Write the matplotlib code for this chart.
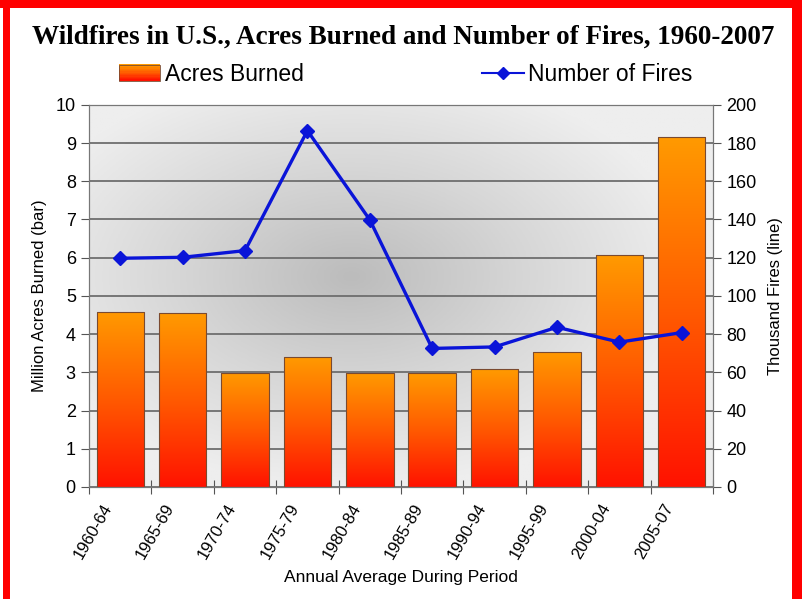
"""Wildfires in U.S.: acres burned (bars) and number of fires (line), 1960-2007."""

import numpy as np
import matplotlib.pyplot as plt
from matplotlib.colors import LinearSegmentedColormap
from matplotlib.legend_handler import HandlerBase
from matplotlib.patches import Rectangle
from matplotlib.lines import Line2D

periods = ["1960-64", "1965-69", "1970-74", "1975-79", "1980-84",
           "1985-89", "1990-94", "1995-99", "2000-04", "2005-07"]
acres_burned = [4.58, 4.55, 2.99, 3.39, 2.97, 2.98, 3.08, 3.54, 6.06, 9.15]
fires_thousands = [119.7, 120.2, 123.7, 186.5, 139.8, 72.5, 73.3, 83.6, 75.8, 80.8]

bar_cmap = LinearSegmentedColormap.from_list("fire", ["#ff1200", "#ff5a00", "#ff9a00"])
bg_cmap = LinearSegmentedColormap.from_list("bg", ["#bcbcbc", "#d6d6d6", "#eeeeee"])

plt.rcParams["font.family"] = ["Liberation Sans", "DejaVu Sans"]


class GradientHandler(HandlerBase):
    """Legend key drawn as stacked strips so it looks like the bar gradient."""

    def create_artists(self, legend, orig_handle, xdescent, ydescent,
                       width, height, fontsize, trans):
        n = 12
        artists = []
        for i in range(n):
            artists.append(Rectangle((-xdescent, -ydescent + height * i / n),
                                     width, height / n + 0.3,
                                     facecolor=bar_cmap(i / (n - 1)),
                                     edgecolor="none", transform=trans))
        artists.append(Rectangle((-xdescent, -ydescent), width, height,
                                 facecolor="none", edgecolor="#7a4a30",
                                 linewidth=0.6, transform=trans))
        return artists


def main() -> None:
    fig = plt.figure(figsize=(8.02, 5.99), dpi=100)
    ax = fig.add_axes([0.111, 0.187, 0.778, 0.638])

    x = np.arange(len(periods))

    # фон: эллиптический серый градиент
    gx, gy = np.meshgrid(np.linspace(0, 1, 300), np.linspace(0, 1, 300))
    r = np.sqrt(((gx - 0.42) / 0.55) ** 2 + ((gy - 0.55) / 0.55) ** 2)
    ax.imshow(np.clip(r, 0, 1), cmap=bg_cmap, extent=[0, 1, 0, 1],
              transform=ax.transAxes, aspect="auto", zorder=0, origin="lower")

    ax.set_xlim(-0.5, len(periods) - 0.5)
    ax.set_ylim(0, 10)
    ax.yaxis.grid(True, color="#6e6e6e", linewidth=1.3, zorder=1)
    ax.set_axisbelow(True)

    bars = ax.bar(x, acres_burned, width=0.76, color="none",
                  edgecolor="#7a4a30", linewidth=0.8, zorder=3)
    grad = np.linspace(0, 1, 256).reshape(-1, 1)
    for b in bars:
        img = ax.imshow(grad, cmap=bar_cmap, origin="lower", aspect="auto",
                        extent=[b.get_x(), b.get_x() + b.get_width(), 0, b.get_height()],
                        zorder=2)
        img.set_clip_path(b)
    ax.set_xlim(-0.5, len(periods) - 0.5)
    ax.set_ylim(0, 10)

    ax.set_yticks(range(0, 11))
    ax.set_xticks(np.arange(-0.5, len(periods)))
    ax.set_xticklabels([])
    # подписи повернуты и сдвинуты чуть левее центра столбца, как в Excel
    ax.set_xticks(x - 0.3, minor=True)
    ax.set_xticklabels(periods, minor=True, rotation=60, ha="right",
                       rotation_mode="anchor", fontsize=12)
    ax.tick_params(axis="x", which="major", direction="inout", length=10,
                   color="#555555")
    ax.tick_params(axis="x", which="minor", length=0, pad=10)
    ax.tick_params(axis="y", direction="out", length=6, color="#555555",
                   labelsize=13)
    for s in ax.spines.values():
        s.set_color("#777777")

    ax.set_ylabel("Million Acres Burned (bar)", fontsize=12, labelpad=6)
    ax.set_xlabel("Annual Average During Period", fontsize=12.5, labelpad=6)

    ax2 = ax.twinx()
    ax2.plot(x, fires_thousands, color="#0a14d8", linewidth=2.4, marker="D",
             markersize=7, zorder=5)
    ax2.set_ylim(0, 200)
    ax2.set_yticks(range(0, 201, 20))
    ax2.tick_params(axis="y", direction="out", length=6, color="#555555",
                    labelsize=13)
    ax2.set_ylabel("Thousand Fires (line)", fontsize=12, labelpad=8)
    for s in ax2.spines.values():
        s.set_color("#777777")

    fig.text(0.503, 0.938, "Wildfires in U.S., Acres Burned and Number of Fires, 1960-2007",
             ha="center", va="center", fontsize=19.5, fontweight="bold",
             family=["Liberation Serif", "DejaVu Serif"])

    bar_key = Rectangle((0, 0), 1, 1)
    line_key = Line2D([], [], color="#0a14d8", linewidth=1.5, marker="D",
                      markersize=6)
    fig.legend([bar_key, line_key], ["Acres Burned", "Number of Fires"],
               handler_map={Rectangle: GradientHandler()},
               loc="center", bbox_to_anchor=(0.506, 0.876), ncol=2,
               frameon=False, fontsize=16.5, columnspacing=7.8,
               handlelength=1.8, handletextpad=0.2)

    # красная рамка по краям картинки
    for rect in [(0.004, 0.0, 0.009, 1.0), (0.0, 0.987, 1.0, 0.013),
                 (0.988, 0.0, 0.012, 1.0)]:
        fig.patches.append(Rectangle(rect[:2], rect[2], rect[3],
                                     transform=fig.transFigure,
                                     facecolor="#ff0000", edgecolor="none"))

    fig.savefig("out.png", dpi=100)


if __name__ == "__main__":
    main()
